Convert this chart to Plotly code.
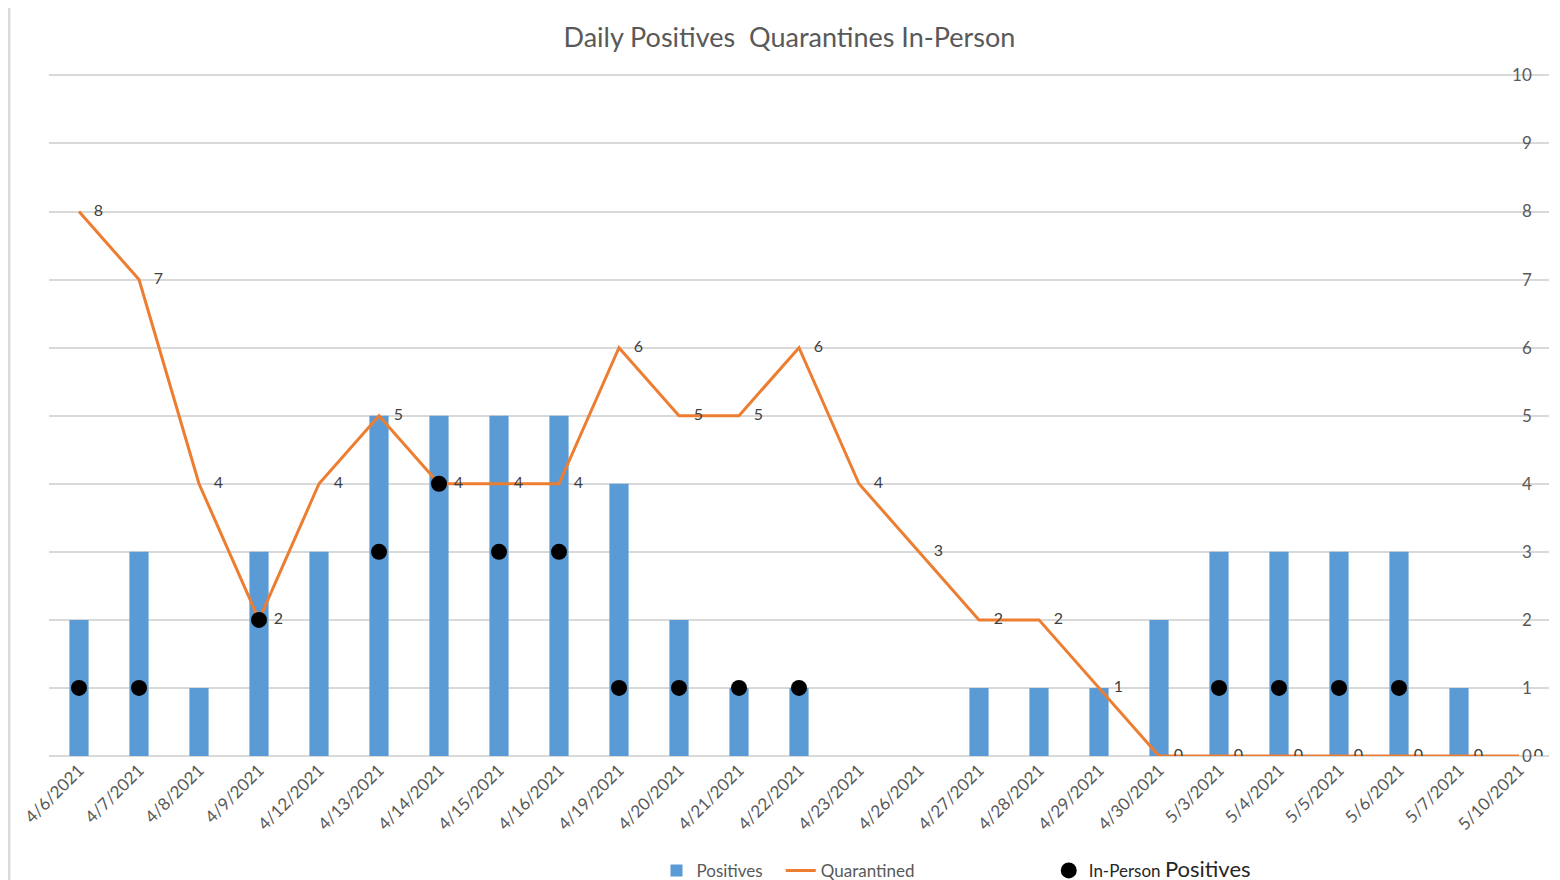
import plotly.graph_objects as go

dates = ["4/6/2021", "4/7/2021", "4/8/2021", "4/9/2021", "4/12/2021", "4/13/2021",
         "4/14/2021", "4/15/2021", "4/16/2021", "4/19/2021", "4/20/2021", "4/21/2021",
         "4/22/2021", "4/23/2021", "4/26/2021", "4/27/2021", "4/28/2021", "4/29/2021",
         "4/30/2021", "5/3/2021", "5/4/2021", "5/5/2021", "5/6/2021", "5/7/2021", "5/10/2021"]
positives = [2, 3, 1, 3, 3, 5, 5, 5, 5, 4, 2, 1, 1, 0, 0, 1, 1, 1, 2, 3, 3, 3, 3, 1, 0]
quarantined = [8, 7, 4, 2, 4, 5, 4, 4, 4, 6, 5, 5, 6, 4, 3, 2, 2, 1, 0, 0, 0, 0, 0, 0, 0]
inperson_dates = ["4/6/2021", "4/7/2021", "4/9/2021", "4/13/2021", "4/14/2021", "4/15/2021",
                  "4/16/2021", "4/19/2021", "4/20/2021", "4/21/2021", "4/22/2021",
                  "5/3/2021", "5/4/2021", "5/5/2021", "5/6/2021"]
inperson = [1, 1, 2, 3, 4, 3, 3, 1, 1, 1, 1, 1, 1, 1, 1]
y_ticks = list(range(0, 11))

FONT = "Lato"
GRAY = "#595959"

fig = go.Figure()
fig.add_trace(go.Bar(
    x=dates, y=positives, name="Positives" + "\u00a0" * 3,
    marker=dict(color="#5b9bd5", line=dict(width=0)),
    width=0.32, legend="legend",
))
fig.add_trace(go.Scatter(
    x=dates, y=quarantined, name="Quarantined",
    mode="lines+markers+text",
    line=dict(color="#ed7d31", width=3),
    marker=dict(size=22, color="rgba(0,0,0,0)"),
    text=[str(v) for v in quarantined],
    textposition="middle right",
    textfont=dict(family=FONT, size=16, color="#404040"),
    legend="legend",
))
fig.add_trace(go.Scatter(
    x=inperson_dates, y=inperson,
    name="In-Person <span style='font-size:22px'>Positives</span>",
    mode="markers",
    marker=dict(size=16, color="black"),
    legend="legend2",
))

fig.update_layout(
    width=1552, height=872,
    margin=dict(l=41, r=11, t=64, b=124, autoexpand=False),
    paper_bgcolor="white", plot_bgcolor="white",
    font=dict(family=FONT, color=GRAY),
    title=dict(text="Daily Positives\u00a0 Quarantines In-Person",
               x=0.5035, xanchor="center", y=0.9665, yanchor="middle",
               font=dict(family=FONT, size=27, color=GRAY)),
    showlegend=True,
    legend=dict(orientation="h", x=0.405, xanchor="left", y=-0.168, yanchor="middle",
                font=dict(family=FONT, size=17, color=GRAY), bgcolor="rgba(0,0,0,0)",
                itemwidth=30),
    legend2=dict(orientation="h", x=0.6665, xanchor="left", y=-0.168, yanchor="middle",
                 font=dict(family=FONT, size=17, color="#262626"), bgcolor="rgba(0,0,0,0)"),
    shapes=[dict(type="rect", xref="paper", yref="paper",
                 x0=-0.0267, x1=1.03, y0=-0.3, y1=1.0985,
                 line=dict(color="#d9d9d9", width=3), layer="below")],
)
fig.update_xaxes(
    type="category", categoryorder="array", categoryarray=dates,
    range=[-0.5, len(dates) - 0.5], automargin=False,
    tickangle=-45, tickfont=dict(family=FONT, size=17, color=GRAY),
    showgrid=False, showline=False, ticks="", zeroline=False,
)
fig.update_yaxes(
    range=[0, 10.05], tickvals=y_ticks, side="left", anchor="free", position=0.9885,
    automargin=False, ticks="",
    tickfont=dict(family=FONT, size=17, color=GRAY),
    showgrid=True, gridcolor="#d9d9d9", gridwidth=1.5,
    zeroline=True, zerolinecolor="#d9d9d9", zerolinewidth=1.5, showline=False,
)

fig.write_html("out.html")
